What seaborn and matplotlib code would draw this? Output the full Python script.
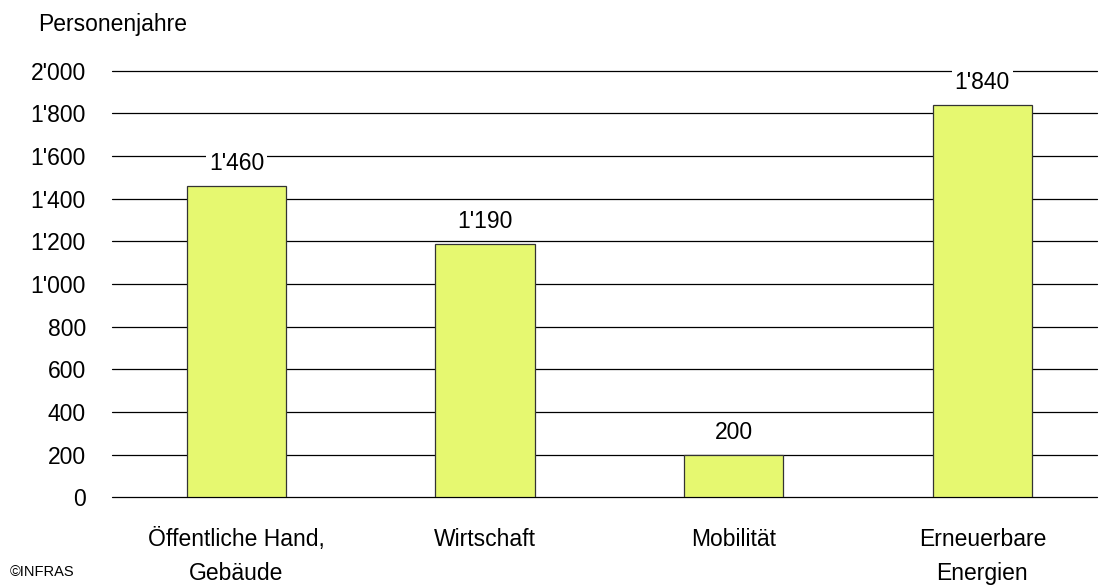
import matplotlib
matplotlib.use("Agg")
import matplotlib.pyplot as plt
import seaborn as sns
import pandas as pd

categories = ["Öffentliche Hand,\nGebäude", "Wirtschaft", "Mobilität", "Erneuerbare\nEnergien"]
values = [1460, 1190, 200, 1840]
yticks = [0, 200, 400, 600, 800, 1000, 1200, 1400, 1600, 1800, 2000]


def swiss(v):
    return f"{v:,.0f}".replace(",", "'")


sns.set_theme(style="white")
plt.rcParams["font.family"] = ["Liberation Sans", "DejaVu Sans"]
plt.rcParams["text.color"] = "black"
plt.rcParams["xtick.color"] = "black"
plt.rcParams["ytick.color"] = "black"

df = pd.DataFrame({"kat": categories, "wert": values})

fig = plt.figure(figsize=(11, 5.85), dpi=100)
ax = fig.add_axes([0.102, 0.150, 0.895, 0.729])

for t in yticks:
    ax.axhline(t, color="black", lw=0.9, zorder=0, clip_on=False)

sns.barplot(data=df, x="kat", y="wert", color="#E6F870", saturation=1,
            width=0.4, edgecolor="#333333", linewidth=0.9, ax=ax, zorder=2)

for i, v in enumerate(values):
    ax.text(i, v + 105, swiss(v), ha="center", va="center", fontsize=16.5,
            color="black", zorder=3,
            bbox=dict(facecolor="white", edgecolor="none", pad=2))

ax.set_ylim(0, 2000)
ax.set_xlim(-0.5, 3.46)
ax.set_yticks(yticks)
ax.set_yticklabels([swiss(t) for t in yticks], fontsize=16.5)
ax.tick_params(axis="y", length=0, pad=19)
ax.tick_params(axis="x", length=0, pad=22, labelsize=16.5)
for lbl in ax.get_xticklabels():
    lbl.set_linespacing(1.6)
ax.set_xlabel("")
ax.set_ylabel("")
for s in ax.spines.values():
    s.set_visible(False)

fig.text(0.035, 0.958, "Personenjahre", fontsize=16.5, va="center", ha="left")
fig.text(0.009, 0.022, "©INFRAS", fontsize=10.5, va="center", ha="left")

fig.savefig("out.png", dpi=100)
